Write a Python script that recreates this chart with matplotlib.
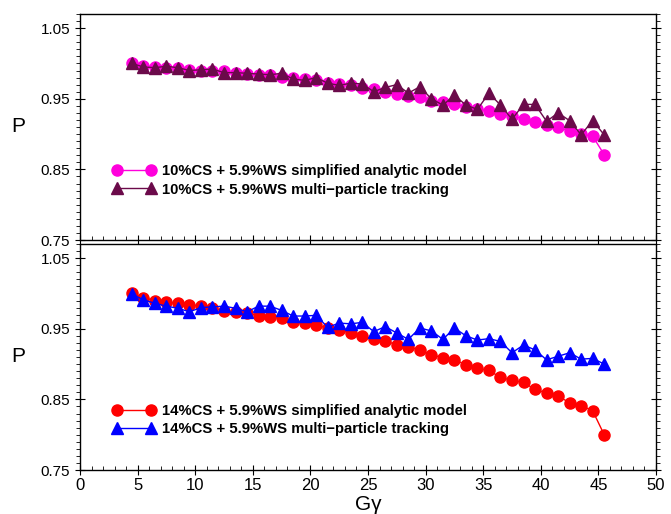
import numpy as np
import matplotlib
matplotlib.use("Agg")
import matplotlib.pyplot as plt
from matplotlib.ticker import MultipleLocator

plt.rcParams['font.family'] = ['Liberation Sans', 'DejaVu Sans']

g_gamma = [4.5 + i for i in range(42)]

top_analytic = [1.000, 0.997, 0.995, 0.994, 0.993, 0.991, 0.990, 0.990, 0.989, 0.986,
                0.985, 0.984, 0.983, 0.981, 0.980, 0.978, 0.977, 0.973, 0.971, 0.969,
                0.965, 0.964, 0.960, 0.957, 0.954, 0.953, 0.947, 0.946, 0.943, 0.938,
                0.935, 0.933, 0.928, 0.925, 0.922, 0.917, 0.913, 0.910, 0.904, 0.900,
                0.897, 0.871]
top_tracking = [1.000, 0.995, 0.994, 0.996, 0.994, 0.990, 0.991, 0.992, 0.987, 0.987,
                0.986, 0.985, 0.984, 0.986, 0.978, 0.976, 0.980, 0.972, 0.969, 0.972,
                0.971, 0.960, 0.966, 0.970, 0.958, 0.967, 0.950, 0.941, 0.955, 0.941,
                0.935, 0.958, 0.941, 0.921, 0.942, 0.942, 0.918, 0.930, 0.919, 0.899,
                0.919, 0.899]
bot_analytic = [1.000, 0.994, 0.990, 0.988, 0.986, 0.984, 0.982, 0.980, 0.975, 0.974,
                0.973, 0.968, 0.967, 0.965, 0.960, 0.958, 0.955, 0.951, 0.948, 0.944,
                0.940, 0.935, 0.933, 0.927, 0.924, 0.920, 0.913, 0.909, 0.906, 0.899,
                0.894, 0.891, 0.881, 0.877, 0.874, 0.864, 0.859, 0.855, 0.845, 0.841,
                0.834, 0.800]
bot_tracking = [0.999, 0.991, 0.986, 0.982, 0.979, 0.974, 0.980, 0.981, 0.982, 0.979,
                0.974, 0.982, 0.982, 0.976, 0.968, 0.968, 0.969, 0.952, 0.958, 0.957,
                0.959, 0.946, 0.953, 0.944, 0.935, 0.951, 0.947, 0.935, 0.951, 0.940,
                0.934, 0.936, 0.932, 0.916, 0.927, 0.920, 0.906, 0.911, 0.916, 0.907,
                0.908, 0.900]

labels_top = ["10%CS + 5.9%WS simplified analytic model",
              "10%CS + 5.9%WS multi\u2212particle tracking"]
labels_bot = ["14%CS + 5.9%WS simplified analytic model",
              "14%CS + 5.9%WS multi\u2212particle tracking"]

W, H = 671, 514
fig = plt.figure(figsize=(W / 100, H / 100), dpi=100)
L, R = 80 / W, 656 / W
ax1 = fig.add_axes([L, 1 - 240 / H, R - L, 226 / H])
ax2 = fig.add_axes([L, 1 - 470 / H, R - L, 226 / H])

def style(ax, show_xlabels):
    ax.set_xlim(0, 50)
    ax.set_ylim(0.75, 1.07)
    ax.set_yticks([0.75, 0.85, 0.95, 1.05])
    ax.set_yticklabels(["0.75", "0.85", "0.95", "1.05"])
    ax.yaxis.set_minor_locator(MultipleLocator(0.01))
    ax.xaxis.set_major_locator(MultipleLocator(5))
    ax.xaxis.set_minor_locator(MultipleLocator(1))
    ax.tick_params(axis='y', which='major', direction='inout', length=7, width=0.8,
                   left=True, right=True, labelsize=11)
    ax.tick_params(axis='y', which='minor', direction='out', length=3, width=0.6,
                   left=True, right=True)
    ax.tick_params(axis='x', which='major', direction='inout', length=7, width=0.8,
                   top=False, labelsize=12, labelbottom=show_xlabels, pad=2)
    ax.tick_params(axis='x', which='minor', direction='in', length=3, width=0.6, top=False)
    ax.set_ylabel("P", rotation=0, fontsize=15, labelpad=16, va='center')
    for s in ax.spines.values():
        s.set_linewidth(1.0)

ax1.plot(g_gamma, top_analytic, '-o', color='#ff00dc', lw=1, ms=8, label=labels_top[0], zorder=2)
ax1.plot(g_gamma, top_tracking, '-^', color='#6b0a4a', lw=1, ms=8.5, label=labels_top[1], zorder=3)
ax2.plot(g_gamma, bot_analytic, '-o', color='#ff0000', lw=1, ms=8, label=labels_bot[0], zorder=2)
ax2.plot(g_gamma, bot_tracking, '-^', color='#0000ff', lw=1, ms=8.5, label=labels_bot[1], zorder=3)

style(ax1, False)
style(ax2, True)
ax2.set_xlabel("G\u03b3", fontsize=15, labelpad=2)

for ax, yanc in ((ax1, 0.166), (ax2, 0.122)):
    ax.legend(loc='lower left', bbox_to_anchor=(0.046, yanc), frameon=False, numpoints=2,
              handlelength=2.9, handletextpad=0.44, labelspacing=0.3, borderaxespad=0,
              prop={'weight': 'bold', 'size': 10.7})

fig.savefig("out.png", dpi=100)
